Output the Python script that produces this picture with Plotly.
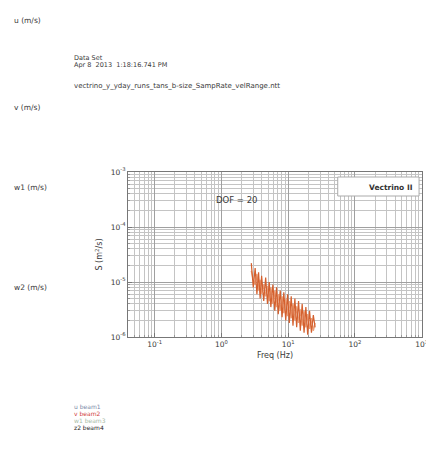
import plotly.graph_objects as go

# ---- data ----
freq = [2.8, 3.0, 3.2, 3.4, 3.6, 3.8, 4.0, 4.3, 4.6, 4.9, 5.2, 5.5, 5.9, 6.3, 6.7, 7.1,
        7.6, 8.1, 8.6, 9.2, 9.8, 10.4, 11.1, 11.8, 12.6, 13.4, 14.3, 15.2, 16.2, 17.3,
        18.4, 19.6, 20.9, 22.3, 23.8, 25.3]
s_beam1 = [2.2e-5, 8e-6, 1.8e-5, 6e-6, 1.5e-5, 5e-6, 1.3e-5, 4.5e-6, 1.2e-5, 4e-6,
           1.0e-5, 3.5e-6, 9e-6, 3e-6, 8e-6, 2.6e-6, 7e-6, 2.3e-6, 6.5e-6, 2e-6,
           6e-6, 1.8e-6, 5.5e-6, 1.6e-6, 5e-6, 1.5e-6, 4.5e-6, 1.3e-6, 4e-6, 1.2e-6,
           3.5e-6, 1.1e-6, 3e-6, 1.2e-6, 2.5e-6, 1.5e-6]
s_beam2 = [1.6e-5, 1.1e-5, 9e-6, 1.4e-5, 7e-6, 1.1e-5, 6e-6, 9e-6, 5.5e-6, 8.5e-6,
           4.5e-6, 8e-6, 4e-6, 7e-6, 3.5e-6, 6e-6, 3e-6, 5.5e-6, 2.7e-6, 5e-6,
           2.4e-6, 4.5e-6, 2.2e-6, 4e-6, 2e-6, 3.6e-6, 1.8e-6, 3.2e-6, 1.6e-6, 3e-6,
           1.5e-6, 2.6e-6, 1.4e-6, 2.2e-6, 1.3e-6, 1.8e-6]
x_exponents = [-1, 0, 1, 2, 3]
y_exponents = [-6, -5, -4, -3]
legend_items = ["u beam1", "v beam2", "w1 beam3", "z2 beam4"]
legend_colors = ["#7a8aa8", "#d04040", "#a8bca8", "#222222"]

OFF = 8  # page body margin
L, T, W, H = 128 - OFF, 172 - OFF, 300, 165
FIGW, FIGH = 434 - OFF, 456 - 2 * OFF

def px(x):
    return (x - OFF - L) / W

def py(y):
    return (T + H - (y - OFF)) / H

def minor_vals(exps):
    lo, hi = min(exps) - 2, max(exps) + 1
    return [m * 10 ** e for e in range(lo, hi) for m in range(2, 10)]

fig = go.Figure()
fig.add_trace(go.Scatter(x=freq, y=s_beam2, mode="lines",
                         line=dict(color="#eba07a", width=1.4), showlegend=False))
fig.add_trace(go.Scatter(x=freq, y=s_beam1, mode="lines",
                         line=dict(color="#d4602e", width=1.2), showlegend=False))

font = "DejaVu Sans, Verdana, sans-serif"
ann = []

def txt(s, x, y, size=7, color="#3a3a3a", xanchor="left", weight="normal"):
    ann.append(dict(text=s, x=px(x), y=py(y), xref="paper", yref="paper",
                    showarrow=False, xanchor=xanchor, yanchor="middle",
                    borderpad=0,
                    font=dict(size=size, color=color, family=font, weight=weight)))

txt("u (m/s)", 11, 20, size=7.5)
txt("Data Set", 72, 58, size=6.5)
txt("Apr 8  2013  1:18:16.741 PM", 72, 65, size=6.5)
txt("vectrino_y_yday_runs_tans_b-size_SampRate_velRange.ntt", 72, 86, size=7)
txt("v (m/s)", 11, 108, size=7.5)
txt("w1 (m/s)", 11, 187, size=7.5)
txt("w2 (m/s)", 11, 287, size=7.5)
txt("DOF = 20", 239, 200, size=8.5, xanchor="center")
txt("Vectrino II", 420, 187, size=7.5, color="#333333", xanchor="right", weight="bold")
for i, (s, c) in enumerate(zip(legend_items, legend_colors)):
    txt(s, 72, 406 + 7 * i, size=6, color=c)

fig.add_shape(type="rect", xref="paper", yref="paper",
              x0=px(342), x1=px(425), y0=py(196), y1=py(177),
              line=dict(color="#aaaaaa", width=1), fillcolor="white", layer="above")

def axis(exps):
    return dict(type="log", tickmode="array",
                tickvals=[10 ** e for e in exps],
                ticktext=["10<sup>%d</sup>" % e for e in exps],
                ticklabeloverflow="allow",
                showgrid=True, gridcolor="#a0a0a0", gridwidth=1,
                showline=True, linecolor="#777777", mirror=True, ticks="inside",
                ticklen=4, tickcolor="#777777",
                tickfont=dict(size=7.5, color="#3a3a3a", family=font),
                minor=dict(tickmode="array", tickvals=minor_vals(exps), showgrid=True,
                           gridcolor="#c4c4c4", ticks="inside", ticklen=2,
                           tickcolor="#999999"),
                zeroline=False)

fig.update_layout(
    width=FIGW, height=FIGH,
    margin=dict(l=L, r=FIGW - L - W, t=T, b=FIGH - T - H),
    paper_bgcolor="white", plot_bgcolor="white",
    annotations=ann,
    xaxis=dict(axis(x_exponents), range=[-1.4, 3.005],
               title=dict(text="Freq (Hz)", font=dict(size=8, color="#3a3a3a", family=font),
                          standoff=4)),
    yaxis=dict(axis(y_exponents), range=[-6, -3],
               title=dict(text="S (m<sup>2</sup>/s)", font=dict(size=8, color="#3a3a3a", family=font),
                          standoff=6)),
)

fig.write_html("out.html")
